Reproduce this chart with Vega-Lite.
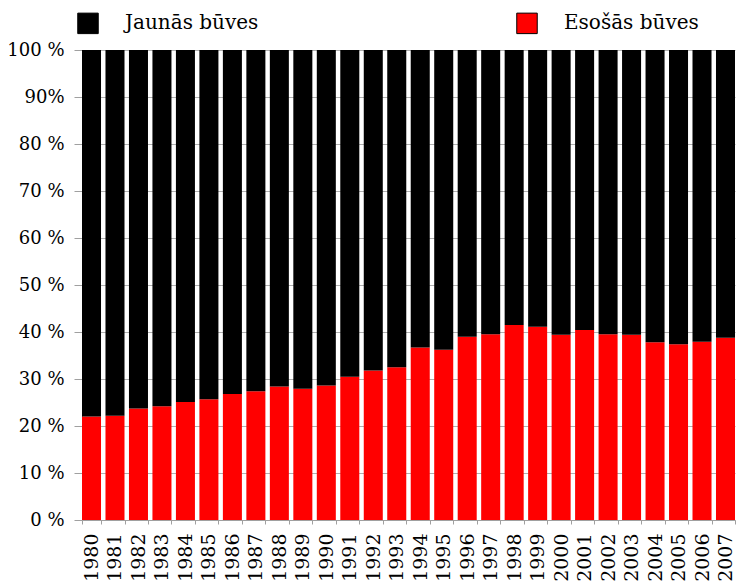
{
  "$schema": "https://vega.github.io/schema/vega-lite/v6.json",
  "autosize": {"type": "none"},
  "padding": {"left": 82, "top": 50, "right": 5, "bottom": 63},
  "width": 653,
  "height": 470,
  "background": "white",
  "config": {
    "view": {"stroke": null},
    "font": "DejaVu Serif"
  },
  "data": {
    "values": [
      {"year": "1980", "type": "Esošās būves", "value": 22.0},
      {"year": "1981", "type": "Esošās būves", "value": 22.2},
      {"year": "1982", "type": "Esošās būves", "value": 23.7},
      {"year": "1983", "type": "Esošās būves", "value": 24.2},
      {"year": "1984", "type": "Esošās būves", "value": 25.1},
      {"year": "1985", "type": "Esošās būves", "value": 25.7},
      {"year": "1986", "type": "Esošās būves", "value": 26.8},
      {"year": "1987", "type": "Esošās būves", "value": 27.4},
      {"year": "1988", "type": "Esošās būves", "value": 28.4},
      {"year": "1989", "type": "Esošās būves", "value": 27.9},
      {"year": "1990", "type": "Esošās būves", "value": 28.6},
      {"year": "1991", "type": "Esošās būves", "value": 30.5},
      {"year": "1992", "type": "Esošās būves", "value": 31.8},
      {"year": "1993", "type": "Esošās būves", "value": 32.5},
      {"year": "1994", "type": "Esošās būves", "value": 36.7},
      {"year": "1995", "type": "Esošās būves", "value": 36.2},
      {"year": "1996", "type": "Esošās būves", "value": 39.0},
      {"year": "1997", "type": "Esošās būves", "value": 39.5},
      {"year": "1998", "type": "Esošās būves", "value": 41.5},
      {"year": "1999", "type": "Esošās būves", "value": 41.1},
      {"year": "2000", "type": "Esošās būves", "value": 39.4},
      {"year": "2001", "type": "Esošās būves", "value": 40.4},
      {"year": "2002", "type": "Esošās būves", "value": 39.5},
      {"year": "2003", "type": "Esošās būves", "value": 39.4},
      {"year": "2004", "type": "Esošās būves", "value": 37.8},
      {"year": "2005", "type": "Esošās būves", "value": 37.4},
      {"year": "2006", "type": "Esošās būves", "value": 37.9},
      {"year": "2007", "type": "Esošās būves", "value": 38.8},
      {"year": "1980", "type": "Jaunās būves", "value": 78.0},
      {"year": "1981", "type": "Jaunās būves", "value": 77.8},
      {"year": "1982", "type": "Jaunās būves", "value": 76.3},
      {"year": "1983", "type": "Jaunās būves", "value": 75.8},
      {"year": "1984", "type": "Jaunās būves", "value": 74.9},
      {"year": "1985", "type": "Jaunās būves", "value": 74.3},
      {"year": "1986", "type": "Jaunās būves", "value": 73.2},
      {"year": "1987", "type": "Jaunās būves", "value": 72.6},
      {"year": "1988", "type": "Jaunās būves", "value": 71.6},
      {"year": "1989", "type": "Jaunās būves", "value": 72.1},
      {"year": "1990", "type": "Jaunās būves", "value": 71.4},
      {"year": "1991", "type": "Jaunās būves", "value": 69.5},
      {"year": "1992", "type": "Jaunās būves", "value": 68.2},
      {"year": "1993", "type": "Jaunās būves", "value": 67.5},
      {"year": "1994", "type": "Jaunās būves", "value": 63.3},
      {"year": "1995", "type": "Jaunās būves", "value": 63.8},
      {"year": "1996", "type": "Jaunās būves", "value": 61.0},
      {"year": "1997", "type": "Jaunās būves", "value": 60.5},
      {"year": "1998", "type": "Jaunās būves", "value": 58.5},
      {"year": "1999", "type": "Jaunās būves", "value": 58.9},
      {"year": "2000", "type": "Jaunās būves", "value": 60.6},
      {"year": "2001", "type": "Jaunās būves", "value": 59.6},
      {"year": "2002", "type": "Jaunās būves", "value": 60.5},
      {"year": "2003", "type": "Jaunās būves", "value": 60.6},
      {"year": "2004", "type": "Jaunās būves", "value": 62.2},
      {"year": "2005", "type": "Jaunās būves", "value": 62.6},
      {"year": "2006", "type": "Jaunās būves", "value": 62.1},
      {"year": "2007", "type": "Jaunās būves", "value": 61.2}
    ]
  },
  "mark": {"type": "bar", "strokeWidth": 0},
  "encoding": {
    "x": {
      "field": "year",
      "type": "ordinal",
      "scale": {"paddingInner": 0.19, "paddingOuter": 0},
      "axis": {
        "title": null,
        "labelAngle": 270,
        "labelAlign": "right",
        "labelBaseline": "middle",
        "labelFontSize": 19,
        "labelColor": "black",
        "labelPadding": 9,
        "tickBand": "extent",
        "tickSize": 4,
        "tickColor": "#a0a0a0",
        "domainColor": "#a0a0a0",
        "grid": false,
        "labelOverlap": false
      }
    },
    "y": {
      "field": "value",
      "type": "quantitative",
      "stack": "normalize",
      "scale": {"domain": [0, 1]},
      "axis": {
        "title": null,
        "values": [0, 0.1, 0.2, 0.3, 0.4, 0.5, 0.6, 0.7, 0.8, 0.9, 1],
        "labelExpr": "datum.value > 0.89 && datum.value < 0.91 ? '90%' : format(datum.value * 100, 'd') + ' %'",
        "labelFontSize": 18,
        "labelColor": "black",
        "labelPadding": 10,
        "tickSize": 8,
        "tickColor": "#a0a0a0",
        "domainColor": "#a0a0a0",
        "grid": true,
        "gridColor": "#b0b0b0",
        "labelOverlap": false
      }
    },
    "color": {
      "field": "type",
      "type": "nominal",
      "scale": {"domain": ["Jaunās būves", "Esošās būves"], "range": ["#000000", "#ff0000"]},
      "legend": {
        "title": null,
        "orient": "none",
        "direction": "horizontal",
        "legendX": -5,
        "legendY": -38,
        "padding": 0,
        "symbolType": "square",
        "symbolSize": 420,
        "symbolStrokeColor": "black",
        "symbolStrokeWidth": 1,
        "labelFontSize": 20,
        "labelColor": "black",
        "labelOffset": 26,
        "columnPadding": 255,
        "labelLimit": 400
      }
    },
    "order": {"field": "type", "sort": "ascending"}
  }
}
